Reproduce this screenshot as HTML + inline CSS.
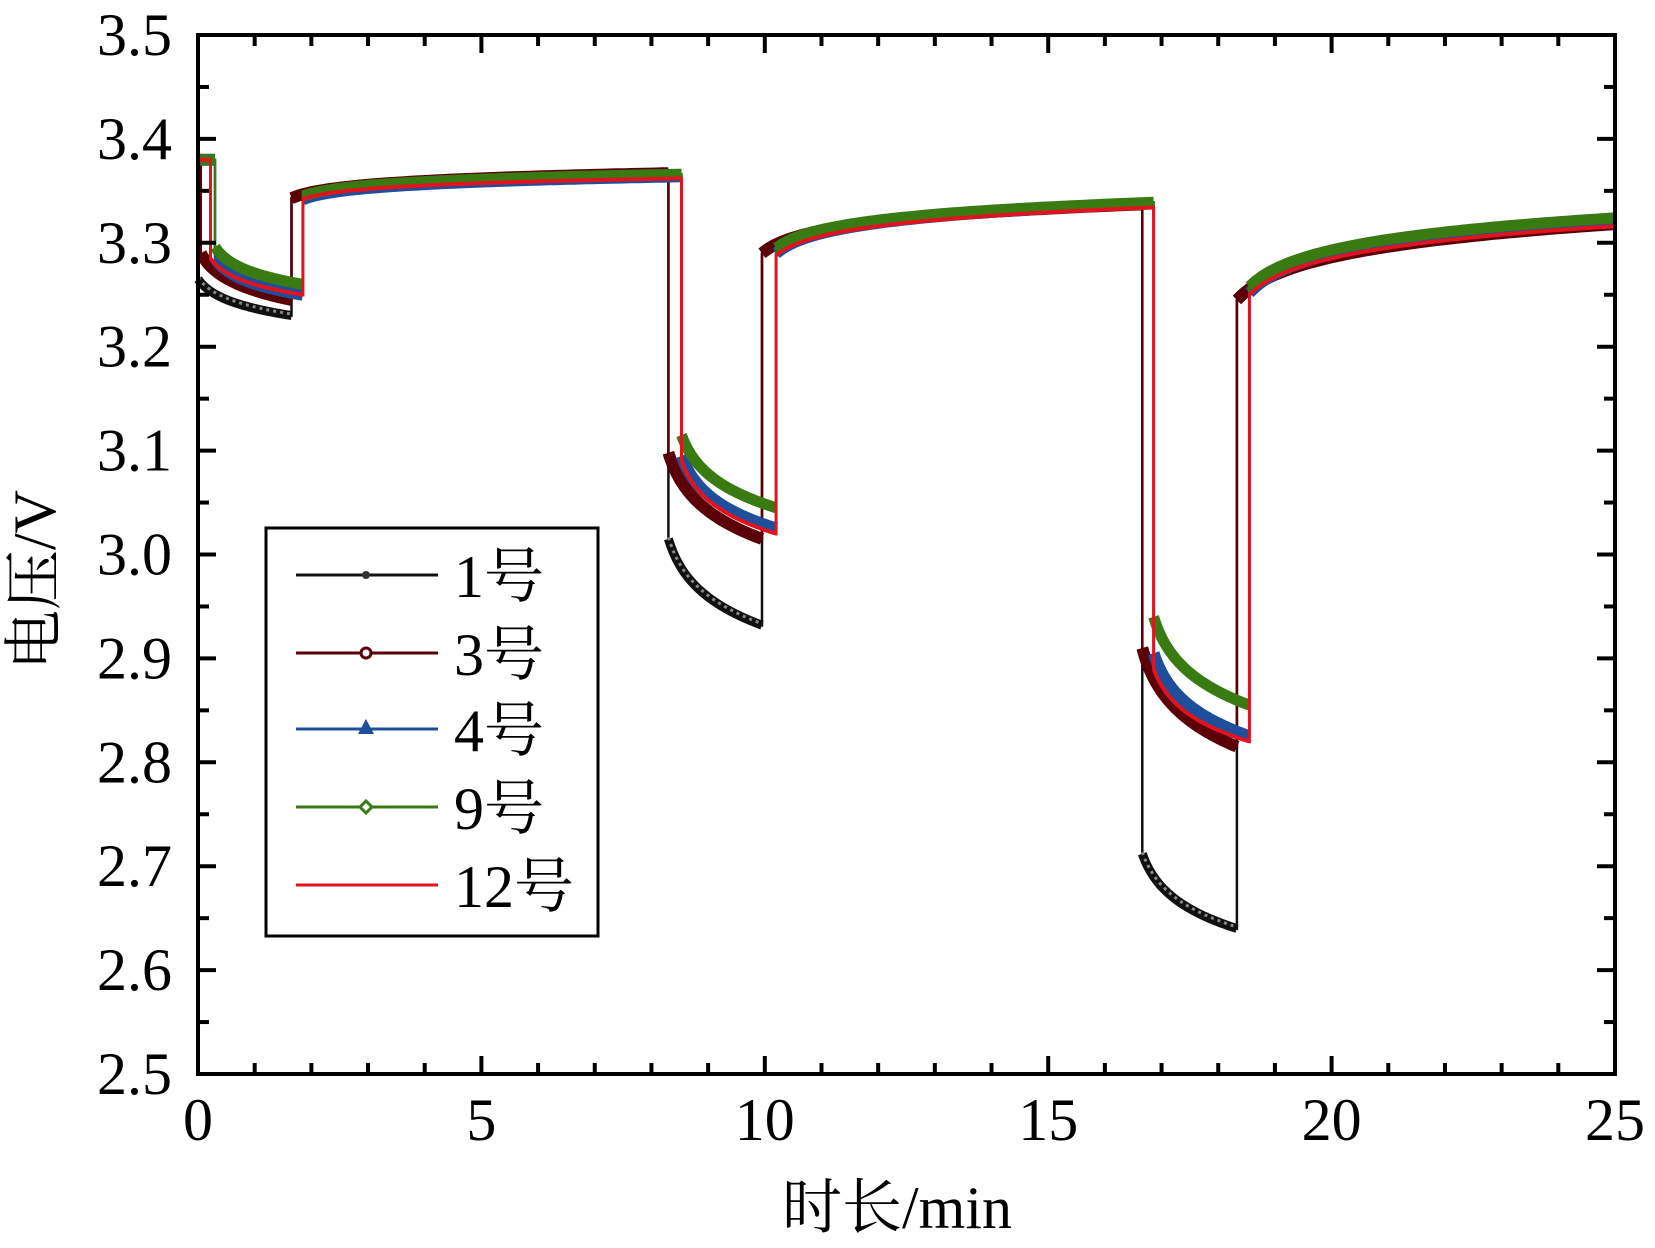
<!DOCTYPE html>
<html><head><meta charset="utf-8"><style>
html,body{margin:0;padding:0;background:#fff;}
svg{display:block;}
text{font-family:"Liberation Serif","Noto Serif CJK SC","Noto Sans CJK SC",serif;fill:#000;}
</style></head><body>
<svg id="s" width="1655" height="1248" viewBox="0 0 1655 1248" xmlns="http://www.w3.org/2000/svg">
<g id="data"></g>
<rect x="198" y="35" width="1417" height="1039" fill="none" stroke="#000" stroke-width="4"/>
<g id="ticks" stroke="#000" stroke-width="4"></g>
<g id="labels" font-size="60"></g>
<text x="0" y="0" font-size="60" text-anchor="middle" transform="translate(55,580) rotate(-90)">电压/V</text>
<text x="897" y="1228" font-size="60" text-anchor="middle">时长/min</text>
<g id="legend">
<rect x="266" y="528" width="332" height="408" fill="#fff" stroke="#000" stroke-width="3"/>
</g>
</svg>
<script>
var X0=198,X1=1615,Y0=1074,Y1=35;
function px(t){return X0+(X1-X0)*t/25;}
function py(v){return Y0-(Y0-Y1)*(v-2.5)/1.0;}
var NS="http://www.w3.org/2000/svg";
function el(p,n,a){var e=document.createElementNS(NS,n);for(var k in a)e.setAttribute(k,a[k]);p.appendChild(e);return e;}
var tk=document.getElementById('ticks'),lb=document.getElementById('labels');
for(var i=0;i<=25;i++){var x=px(i),L=(i%5==0)?18:11;
 el(tk,'line',{x1:x,y1:Y0,x2:x,y2:Y0-L});el(tk,'line',{x1:x,y1:Y1,x2:x,y2:Y1+L});
 if(i%5==0){var t=el(lb,'text',{x:x,y:1140,'text-anchor':'middle'});t.textContent=i;}}
for(var j=0;j<=20;j++){var v=2.5+j*0.05,y=py(v),L=(j%2==0)?18:11;
 el(tk,'line',{x1:X0,y1:y,x2:X0+L,y2:y});el(tk,'line',{x1:X1,y1:y,x2:X1-L,y2:y});
 if(j%2==0){var t=el(lb,'text',{x:172,y:y+20,'text-anchor':'end'});t.textContent=v.toFixed(1);}}
function f(u,k){return Math.log(1+k*u)/Math.log(1+k);}
function seg(t0,t1,v0,v1,k){var pts=[];for(var i=0;i<=60;i++){var u=i/60;pts.push([t0+(t1-t0)*u,v0+(v1-v0)*f(u,k)]);}return pts;}
function series(a){
 var T=a.t,V=a.v,segs=[];
 if(T[0]>0)segs.push([[0,3.38],[T[0],3.38]]);
 segs.push(seg(T[0],T[1],V[0],V[1],8));
 segs.push(seg(T[1],T[2],V[2],V[3],20));
 segs.push(seg(T[2],T[3],V[4],V[5],8));
 segs.push(seg(T[3],T[4],V[6],V[7],20));
 segs.push(seg(T[4],T[5],V[8],V[9],8));
 segs.push(seg(T[5],25,V[10],V[11],15));
 return segs;}
var S=[
 {c:'#111',m:'#888',w:9,t:[0,1.65,8.3,9.95,16.66,18.33],v:[3.265,3.23,3.343,3.366,3.015,2.932,3.29,3.337,2.712,2.64,3.245,3.318]},
 {c:'#5c0008',w:12,t:[0.05,1.65,8.3,9.95,16.66,18.33],v:[3.29,3.245,3.343,3.367,3.098,3.015,3.29,3.337,2.91,2.815,3.245,3.318]},
 {c:'#1f4e9c',w:12,t:[0.3,1.85,8.53,10.2,16.86,18.55],v:[3.285,3.25,3.342,3.364,3.095,3.025,3.29,3.338,2.905,2.825,3.252,3.322]},
 {c:'#3a7a12',w:11,t:[0.3,1.85,8.53,10.2,16.86,18.55],v:[3.296,3.26,3.345,3.366,3.115,3.045,3.295,3.339,2.94,2.855,3.258,3.324]},
 {c:'#e0141e',w:4,t:[0.22,1.85,8.53,10.2,16.86,18.55],v:[3.285,3.25,3.342,3.362,3.09,3.02,3.288,3.334,2.89,2.82,3.25,3.316]}
];
var g=document.getElementById('data');
S.forEach(function(s){var segs=series(s);var all=[];
 segs.forEach(function(p){all=all.concat(p);});
 el(g,'polyline',{points:all.map(function(p){return px(p[0]).toFixed(1)+','+py(p[1]).toFixed(1)}).join(' '),fill:'none',stroke:s.c,'stroke-width':s.w>5?2.5:3});
 segs.forEach(function(p){
  el(g,'polyline',{points:p.map(function(q){return px(q[0]).toFixed(1)+','+py(q[1]).toFixed(1)}).join(' '),fill:'none',stroke:s.c,'stroke-width':s.w,'stroke-linejoin':'round'});
  if(s.m)el(g,'polyline',{points:p.map(function(q){return px(q[0]).toFixed(1)+','+(py(q[1])-1.5).toFixed(1)}).join(' '),fill:'none',stroke:s.m,'stroke-width':3,'stroke-dasharray':'3 4'});
 });});
var lg=document.getElementById('legend');
var L=[['1号','#111',575],['3号','#5c0008',653],['4号','#1f4e9c',729],['9号','#3a7a12',807],['12号','#e0141e',885]];
L.forEach(function(e,i){el(lg,'line',{x1:296,y1:e[2],x2:438,y2:e[2],stroke:e[1],'stroke-width':3});
 if(i==0)el(lg,'circle',{cx:366,cy:e[2],r:4,fill:'#333'});
 if(i==1)el(lg,'circle',{cx:366,cy:e[2],r:5,fill:'#fff',stroke:e[1],'stroke-width':3});
 if(i==2)el(lg,'polygon',{points:'358,'+(e[2]+5)+' 374,'+(e[2]+5)+' 366,'+(e[2]-10),fill:e[1]});
 if(i==3)el(lg,'polygon',{points:'366,'+(e[2]-6)+' 372,'+e[2]+' 366,'+(e[2]+6)+' 360,'+e[2],fill:'#fff',stroke:e[1],'stroke-width':3});
 var t=el(lg,'text',{x:454,y:e[2]+22,'font-size':'60'});t.textContent=e[0];});
</script>
</body></html>
